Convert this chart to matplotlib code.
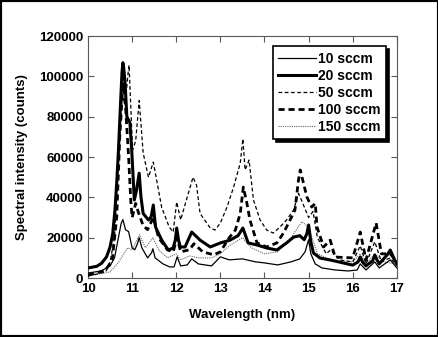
import matplotlib
matplotlib.use("Agg")
import matplotlib.pyplot as plt
from matplotlib.patches import Rectangle

plt.rcParams['font.family'] = ['Liberation Sans', 'DejaVu Sans']
plt.rcParams['font.weight'] = 'bold'

# 10 sccm (thin solid)
wl_10 = [10.0, 10.3, 10.5, 10.6, 10.68, 10.75, 10.79, 10.85, 10.92, 11.0, 11.06, 11.12,
         11.16, 11.22, 11.35, 11.44, 11.47, 11.52, 11.7, 11.85, 11.95, 12.02, 12.1, 12.25,
         12.35, 12.5, 12.8, 13.0, 13.2, 13.5, 13.8, 14.0, 14.3, 14.6, 14.8, 14.92, 15.0,
         15.05, 15.15, 15.3, 15.6, 15.9, 16.1, 16.17, 16.3, 16.5, 16.6, 16.85, 17.0]
int_10 = [2500, 3500, 6000, 10000, 19000, 27000, 29000, 24000, 23000, 15000, 14000, 17000,
          20000, 15000, 10000, 12500, 14500, 10000, 7000, 5500, 5500, 10500, 6000, 6500,
          9500, 7000, 6000, 10500, 9000, 9500, 8000, 7500, 6500, 8000, 9500, 13000, 19000,
          12000, 7000, 5000, 4000, 3500, 4000, 7000, 4000, 8000, 5000, 9000, 5000]

# 20 sccm (thick solid)
wl_20 = [10.0, 10.2, 10.31, 10.42, 10.5, 10.56, 10.61, 10.65, 10.69, 10.74, 10.77, 10.79,
         10.81, 10.84, 10.88, 10.95, 10.99, 11.05, 11.1, 11.16, 11.2, 11.25, 11.37, 11.43,
         11.48, 11.53, 11.67, 11.82, 11.93, 11.98, 12.01, 12.05, 12.09, 12.2, 12.35, 12.54,
         12.77, 13.0, 13.22, 13.4, 13.51, 13.63, 13.83, 14.05, 14.28, 14.5, 14.66, 14.8,
         14.9, 14.96, 15.0, 15.05, 15.11, 15.26, 15.5, 16.0, 16.12, 16.17, 16.22, 16.3,
         16.45, 16.5, 16.55, 16.6, 16.8, 16.85, 16.95, 17.0]
int_20 = [5000, 5800, 7400, 10500, 15400, 22000, 33700, 47000, 63500, 88000, 102000, 106800,
          104000, 96700, 80000, 77000, 63500, 38700, 43600, 52000, 40200, 32000, 28800, 30300,
          36200, 25300, 18800, 13900, 14900, 19000, 24800, 19000, 15400, 15400, 22800, 18800,
          15400, 17400, 18800, 21000, 24800, 17400, 16400, 14900, 13900, 17400, 20300, 21000,
          19000, 22000, 26300, 18000, 12400, 9900, 8900, 6400, 8000, 10400, 8000, 6000,
          8500, 11400, 9000, 7000, 12000, 13900, 9000, 7000]

# 50 sccm (thin dashed)
wl_50 = [10.0, 10.4, 10.5, 10.6, 10.65, 10.69, 10.75, 10.8, 10.86, 10.9, 10.93, 10.96,
         11.01, 11.08, 11.16, 11.25, 11.37, 11.48, 11.67, 11.84, 11.93, 12.01, 12.1, 12.22,
         12.38, 12.46, 12.54, 12.77, 12.88, 13.0, 13.15, 13.3, 13.45, 13.51, 13.56, 13.65,
         13.75, 13.9, 14.05, 14.2, 14.35, 14.5, 14.66, 14.77, 14.85, 15.0, 15.1, 15.2, 15.4,
         15.5, 15.7, 16.0, 16.17, 16.3, 16.5, 16.65, 16.85, 17.0]
int_50 = [1000, 3000, 8000, 20000, 40000, 60000, 82000, 96700, 90000, 100000, 105600, 90000,
          63500, 68000, 88000, 62000, 50000, 57500, 35000, 25300, 22800, 37700, 28800, 38000,
          50000, 46000, 32000, 24800, 23800, 27300, 35200, 45100, 57000, 69000, 53600, 58500,
          38700, 28800, 23800, 22300, 25300, 28800, 33700, 42000, 38000, 30000, 33000, 20000,
          12000, 14000, 9000, 8000, 16000, 7000, 18000, 8000, 10000, 6000]

# 100 sccm (thick dashed)
wl_100 = [10.0, 10.2, 10.4, 10.55, 10.65, 10.72, 10.79, 10.85, 10.92, 10.97, 11.0, 11.08,
          11.15, 11.25, 11.35, 11.48, 11.6, 11.8, 11.93, 12.02, 12.1, 12.3, 12.4, 12.6, 12.85,
          13.0, 13.2, 13.34, 13.45, 13.52, 13.6, 13.67, 13.83, 14.05, 14.28, 14.43, 14.58,
          14.69, 14.77, 14.81, 14.96, 15.07, 15.15, 15.19, 15.34, 15.49, 15.6, 16.0, 16.17,
          16.3, 16.53, 16.65, 16.85, 17.0]
int_100 = [1500, 2500, 4000, 9000, 30000, 70000, 96000, 85000, 60000, 38000, 30000, 37000,
           32000, 26000, 24000, 30000, 20000, 14000, 13000, 20000, 13000, 14000, 17000, 13000,
           11500, 13000, 20000, 23800, 32000, 45100, 37200, 28800, 17400, 15400, 17400, 22300,
           28800, 33700, 48600, 53600, 40200, 35200, 37000, 25300, 15400, 18800, 10400, 10000,
           22800, 9000, 27300, 12000, 12000, 8000]

# 150 sccm (dotted)
wl_150 = [10.0, 10.5, 10.7, 10.9, 11.0, 11.17, 11.3, 11.47, 11.6, 11.8, 12.0, 12.1, 12.3,
          12.5, 12.8, 13.0, 13.2, 13.5, 13.7, 14.0, 14.3, 14.6, 14.85, 15.0, 15.2, 15.5,
          16.0, 16.17, 16.3, 16.5, 16.7, 17.0]
int_150 = [1000, 3000, 8000, 15000, 14000, 21500, 15000, 20000, 14000, 10000, 12000, 9000,
           11000, 10000, 10000, 12000, 16000, 20000, 15000, 12000, 13000, 20000, 28000, 25000,
           12000, 9000, 8000, 12000, 7000, 12000, 8000, 7000]

x_ticks = [10, 11, 12, 13, 14, 15, 16, 17]
y_ticks = [0, 20000, 40000, 60000, 80000, 100000, 120000]

fig = plt.figure(figsize=(4.39, 3.37), dpi=100)
ax = fig.add_axes([0.2005, 0.175, 0.7035, 0.718])

ax.plot(wl_150, int_150, color='0.4', lw=0.8, ls=(0, (1, 1)), label='150 sccm', zorder=2)
ax.plot(wl_50, int_50, color='black', lw=0.9, ls=(0, (3, 2)), label='50 sccm', zorder=3)
ax.plot(wl_100, int_100, color='black', lw=2.0, ls=(0, (2.2, 1.4)), label='100 sccm', zorder=4)
ax.plot(wl_10, int_10, color='black', lw=0.9, label='10 sccm', zorder=5)
ax.plot(wl_20, int_20, color='black', lw=2.2, label='20 sccm', zorder=6)

ax.set_xlim(10, 17)
ax.set_ylim(0, 120000)
ax.set_xticks(x_ticks)
ax.set_yticks(y_ticks)
ax.set_xticklabels([str(t) for t in x_ticks])
ax.set_yticklabels([str(t) for t in y_ticks])
ax.tick_params(direction='in', top=True, right=True, length=4, width=0.8,
               labelsize=9.5, color='0.35')
for s in ax.spines.values():
    s.set_linewidth(0.8)
    s.set_color('0.35')

ax.set_xlabel('Wavelength (nm)', fontsize=9.5, fontweight='bold')
ax.set_ylabel('Spectral intensity (counts)', fontsize=9.5, fontweight='bold')
ax.xaxis.set_label_coords(0.5, -0.128)
ax.yaxis.set_label_coords(-0.194, 0.5)

handles, labels = ax.get_legend_handles_labels()
order = [3, 4, 1, 2, 0]
leg = ax.legend([handles[i] for i in order], [labels[i] for i in order],
                loc='upper right', bbox_to_anchor=(386 / 439, 1 - 46 / 337),
                bbox_transform=fig.transFigure, borderaxespad=0,
                fontsize=10, handlelength=2.7, handletextpad=0.15,
                labelspacing=0.22, borderpad=0.4, fancybox=False,
                framealpha=1, edgecolor='black',
                shadow={'color': 'black', 'alpha': 1})
leg.get_frame().set_linewidth(1.2)
for t in leg.get_texts():
    t.set_fontweight('bold')

fig.patches.append(Rectangle((0, 0), 1, 1, transform=fig.transFigure,
                             fill=False, lw=3, ec='black'))

fig.savefig('out.png', dpi=100)
